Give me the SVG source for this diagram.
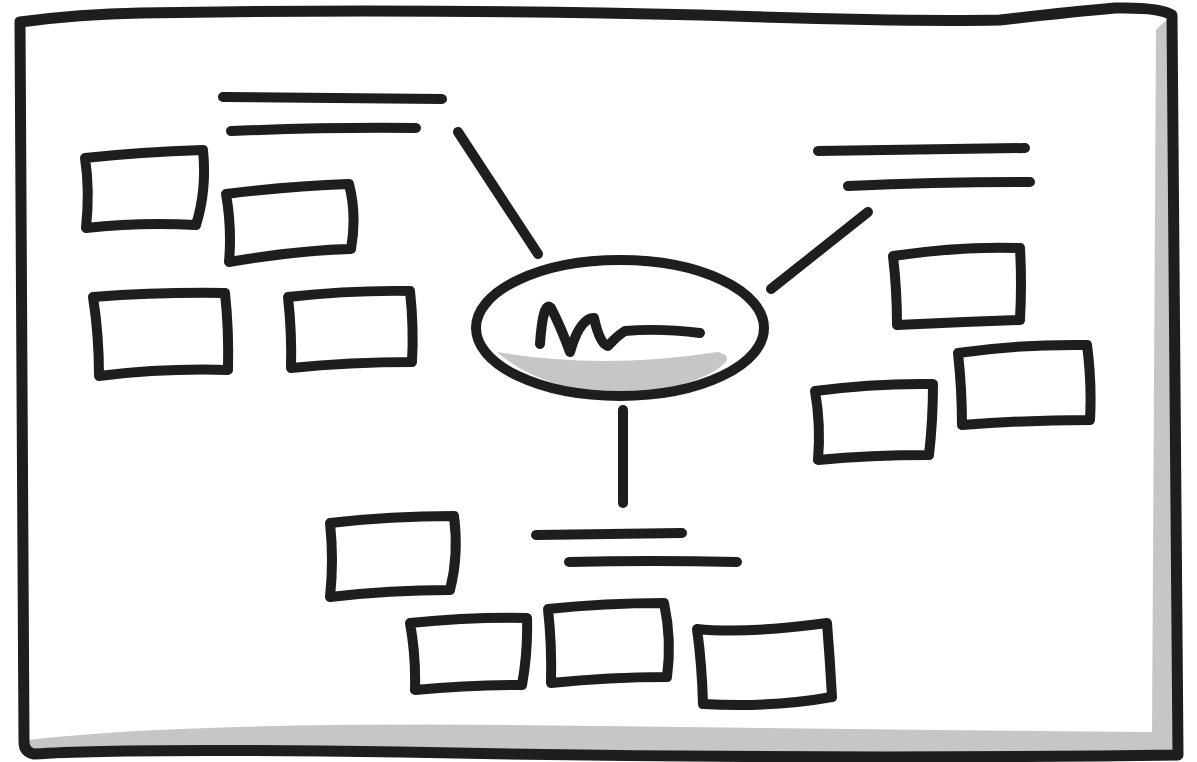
<svg xmlns="http://www.w3.org/2000/svg" width="1197" height="762" viewBox="0 0 1197 762">
<style>
.s{fill:none;stroke:#1e1e1e;stroke-width:10;stroke-linecap:round;stroke-linejoin:round}
.b{fill:#fff;stroke:#1e1e1e;stroke-width:10;stroke-linecap:round;stroke-linejoin:round}
.f{fill:none;stroke:#1e1e1e;stroke-width:11;stroke-linecap:round;stroke-linejoin:round}
.g{fill:#c6c6c6;stroke:none}
</style>
<rect width="1197" height="762" fill="#fff"/>
<g id="frame">
<path class="g" d="M28 740 Q200 720 600 726 Q900 730 1152 732 L1156 30 Q1165 20 1172 18 L1176 752 L28 752 Z"/>
<path class="f" d="M20 22 Q80 14 140 13 Q400 8 700 15 Q900 22 1000 20 Q1070 12 1115 8 Q1160 7 1172 15 Q1176 380 1178 755 Q800 760 400 752 Q120 748 34 754 Q24 752 24 742 Q21 400 20 22 Z"/>
</g>
<g id="connectors">
<path class="s" d="M458 132 L538 254"/>
<path class="s" d="M771 289 L868 212"/>
<path class="s" d="M623 410 L623 503"/>
</g>
<g id="center">
<ellipse cx="620" cy="328" rx="144" ry="68" fill="#fff"/>
<path class="g" d="M497 352 Q600 370 718 352 Q730 355 726 362 Q700 388 620 394 Q540 390 497 352 Z"/>
<ellipse class="s" cx="620" cy="328" rx="144" ry="68"/>
<path class="s" d="M540 344 Q543 300 551 308 Q560 325 570 352 Q580 318 594 318 Q600 345 608 346 Q618 335 625 331 Q660 328 700 333"/>
</g>
<g id="title-left">
<path class="s" d="M223 97 L442 99"/>
<path class="s" d="M231 131 Q330 127 416 128"/>
</g>
<g id="title-right">
<path class="s" d="M818 151 L1025 148"/>
<path class="s" d="M848 186 Q940 182 1030 182"/>
</g>
<g id="title-bottom">
<path class="s" d="M536 535 L682 533"/>
<path class="s" d="M569 562 Q650 560 737 562"/>
</g>
<g id="box-a"><path class="b" d="M85 158 Q140 152 203 150 Q207 190 196 225 Q140 222 86 228 Q90 190 85 158 Z"/></g>
<g id="box-b"><path class="b" d="M226 194 Q290 186 349 184 Q357 215 351 249 Q300 250 229 262 Q232 228 226 194 Z"/></g>
<g id="box-c"><path class="b" d="M93 297 Q160 292 225 293 Q229 330 228 370 Q165 368 99 376 Q99 335 93 297 Z"/></g>
<g id="box-d"><path class="b" d="M288 297 Q350 290 410 291 Q414 328 412 362 Q350 362 291 368 Q292 333 288 297 Z"/></g>
<g id="box-e"><path class="b" d="M893 256 Q960 246 1020 248 Q1022 283 1020 320 Q960 322 897 325 Q897 290 893 256 Z"/></g>
<g id="box-f"><path class="b" d="M958 353 Q1020 344 1087 345 Q1092 383 1090 420 Q1025 420 962 425 Q962 390 958 353 Z"/></g>
<g id="box-g"><path class="b" d="M815 391 Q875 383 933 384 Q933 420 929 455 Q870 455 818 460 Q821 425 815 391 Z"/></g>
<g id="box-h"><path class="b" d="M330 523 Q390 516 454 516 Q459 555 450 590 Q390 590 330 597 Q334 560 330 523 Z"/></g>
<g id="box-i"><path class="b" d="M410 623 Q470 617 527 618 Q528 652 522 685 Q470 685 415 690 Q416 656 410 623 Z"/></g>
<g id="box-j"><path class="b" d="M548 609 Q605 603 664 603 Q672 640 667 677 Q610 677 551 683 Q552 645 548 609 Z"/></g>
<g id="box-k"><path class="b" d="M697 629 Q745 634 827 623 Q830 660 832 697 Q770 708 703 704 Q702 665 697 629 Z"/></g>
</svg>
